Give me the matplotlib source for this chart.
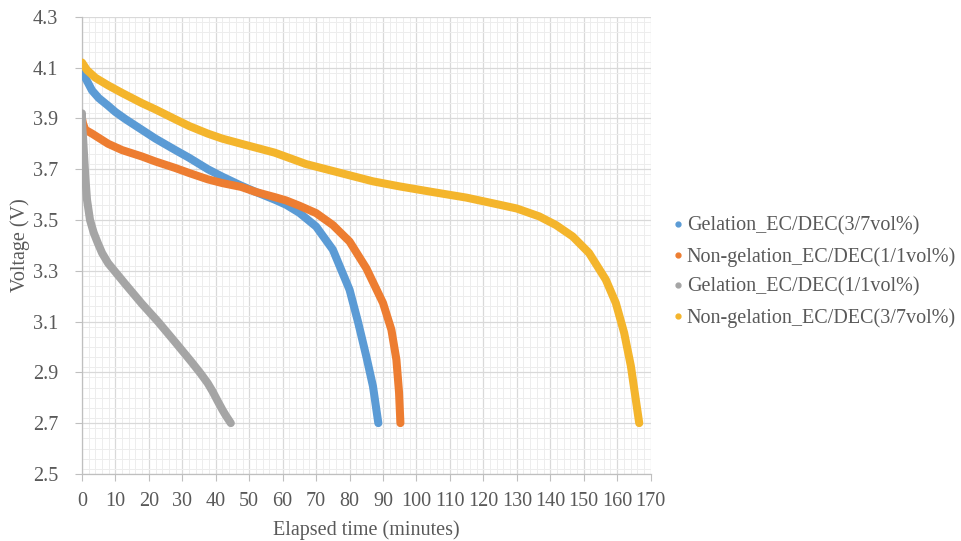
"""Discharge curves (voltage vs elapsed time) for four electrolyte cells."""

import matplotlib
matplotlib.use("Agg")
import matplotlib.pyplot as plt
from matplotlib.lines import Line2D
from matplotlib.ticker import MultipleLocator

plt.rcParams["font.family"] = ["Liberation Serif", "DejaVu Serif"]

# --- data ------------------------------------------------------------------
labels = [
    "Gelation_EC/DEC(3/7vol%)",
    "Non-gelation_EC/DEC(1/1vol%)",
    "Gelation_EC/DEC(1/1vol%)",
    "Non-gelation_EC/DEC(3/7vol%)",
]

gel_37_t = [0, 1, 3, 5, 7.8, 10, 13, 17.9, 22, 27.8, 32, 37.6, 42, 47.6, 52,
            57.6, 61, 65, 70, 75, 80, 82.5, 85, 87, 88.6]
gel_37_v = [4.10, 4.06, 4.01, 3.98, 3.95, 3.925, 3.897, 3.855, 3.82, 3.776,
            3.745, 3.70, 3.67, 3.635, 3.61, 3.58, 3.56, 3.528, 3.474, 3.383,
            3.225, 3.10, 2.963, 2.845, 2.70]

nongel_11_t = [0, 0.3, 1, 3, 7.8, 12, 17.9, 22, 27.8, 32, 37.6, 42, 47.6, 52,
               57.6, 61, 65, 70, 75, 80, 85, 90, 92.5, 94, 94.8, 95.2]
nongel_11_v = [3.90, 3.88, 3.855, 3.84, 3.80, 3.775, 3.75, 3.73, 3.705, 3.685,
               3.66, 3.645, 3.63, 3.61, 3.59, 3.577, 3.556, 3.527, 3.48, 3.415,
               3.31, 3.173, 3.068, 2.95, 2.82, 2.70]

gel_11_t = [0, 0, 0.1, 0.3, 0.6, 1, 1.5, 2.4, 3.5, 4.7, 6, 7.8, 12.8, 17.9,
            22.7, 27.8, 32.8, 35.5, 37.6, 39, 40.6, 42, 43, 44.5]
gel_11_v = [3.92, 3.89, 3.86, 3.83, 3.76, 3.67, 3.58, 3.50, 3.45, 3.41, 3.37,
            3.33, 3.25, 3.17, 3.10, 3.02, 2.94, 2.895, 2.857, 2.826, 2.786,
            2.752, 2.73, 2.70]

nongel_37_t = [0, 0.5, 1.5, 4, 7.8, 12, 17.9, 22, 27.8, 32, 37.6, 42, 47.6,
               57.6, 67, 77, 87, 95, 104.8, 114.9, 124.8, 130, 136.7, 141.7,
               146.7, 151.6, 156.6, 159.6, 162.1, 164.1, 165.6, 166.6]
nongel_37_v = [4.12, 4.11, 4.09, 4.06, 4.03, 4.00, 3.96, 3.935, 3.897, 3.87,
               3.84, 3.82, 3.80, 3.765, 3.72, 3.686, 3.652, 3.632, 3.61, 3.588,
               3.56, 3.545, 3.514, 3.48, 3.435, 3.37, 3.265, 3.173, 3.055,
               2.925, 2.79, 2.70]

colors = ["#5B9BD5", "#ED7D31", "#A5A5A5", "#F4B52C"]
TEXT = "#595959"

series = [
    (gel_37_t, gel_37_v),
    (nongel_11_t, nongel_11_v),
    (gel_11_t, gel_11_v),
    (nongel_37_t, nongel_37_v),
]

# --- figure ------------------------------------------------------------------
fig = plt.figure(figsize=(9.61, 5.41), dpi=100)
ax = fig.add_axes([0.0853, 0.124, 0.5917, 0.845])

for (t, v), c, lab in zip(series, colors, labels):
    ax.plot(t, v, color=c, lw=5.8, solid_capstyle="round",
            solid_joinstyle="round", label=lab, zorder=3)

ax.set_xlim(0, 170)
ax.set_ylim(2.5, 4.3)
ax.xaxis.set_major_locator(MultipleLocator(10))
ax.xaxis.set_minor_locator(MultipleLocator(2))
ax.yaxis.set_minor_locator(MultipleLocator(0.04))
ax.set_yticks([2.5 + 0.2 * i for i in range(10)])
ax.set_yticklabels([f"{2.5 + 0.2 * i:.1f}" for i in range(10)])

ax.grid(which="major", color="#D9D9D9", lw=0.9, zorder=0)
ax.grid(which="minor", color="#EDEDED", lw=0.7, zorder=0)
ax.set_axisbelow(True)

for side in ("top", "right"):
    ax.spines[side].set_visible(False)
for side in ("left", "bottom"):
    ax.spines[side].set_color("#BFBFBF")
    ax.spines[side].set_linewidth(0.9)

ax.tick_params(which="major", length=5, color="#BFBFBF", labelsize=14.5,
               labelcolor=TEXT)
ax.tick_params(axis="x", pad=8)
ax.tick_params(axis="y", pad=12)
ax.tick_params(which="minor", length=0)

ax.set_xlabel("Elapsed time (minutes)", fontsize=14.5, color=TEXT, labelpad=7)
ax.set_ylabel("Voltage (V)", fontsize=14.5, color=TEXT, labelpad=2)

handles = [Line2D([], [], ls="none", marker="o", ms=3.5, color=c)
           for c in colors]
fig.legend(handles, labels, loc="center left", bbox_to_anchor=(0.699, 0.497),
           frameon=False, fontsize=14.5, labelcolor=TEXT, handlelength=0.6,
           handletextpad=0.15, labelspacing=0.55, borderpad=0,
           borderaxespad=0)

fig.savefig("out.png", dpi=100)
